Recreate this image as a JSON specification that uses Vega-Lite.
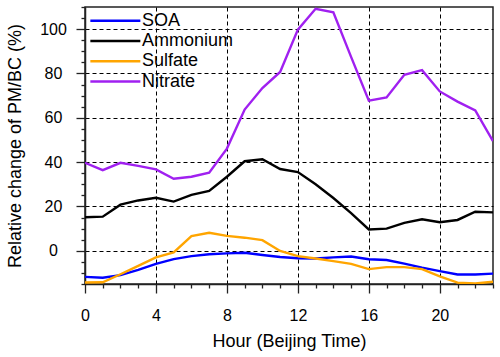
{
  "$schema": "https://vega.github.io/schema/vega-lite/v6.json",
  "width": 408,
  "height": 277,
  "autosize": {"type": "none"},
  "padding": {"left": 85, "top": 7, "right": 7, "bottom": 73},
  "background": "white",
  "config": {
    "view": {"stroke": "#222", "strokeWidth": 1.5},
    "font": "Liberation Sans",
    "axis": {
      "labelFont": "Liberation Sans",
      "titleFont": "Liberation Sans",
      "labelColor": "black",
      "titleColor": "black",
      "titleFontWeight": "normal",
      "domainColor": "#222",
      "domainWidth": 1.5,
      "tickColor": "#222",
      "tickWidth": 1.3,
      "gridColor": "black",
      "gridDash": [4, 3],
      "gridWidth": 1
    }
  },
  "data": {
    "values": [
      {"h":0,"s":"SOA","v":-11.8},{"h":1,"s":"SOA","v":-12.2},{"h":2,"s":"SOA","v":-11.0},{"h":3,"s":"SOA","v":-8.6},{"h":4,"s":"SOA","v":-5.9},{"h":5,"s":"SOA","v":-3.8},{"h":6,"s":"SOA","v":-2.4},{"h":7,"s":"SOA","v":-1.6},{"h":8,"s":"SOA","v":-1.2},{"h":9,"s":"SOA","v":-0.9},{"h":10,"s":"SOA","v":-1.9},{"h":11,"s":"SOA","v":-2.8},{"h":12,"s":"SOA","v":-3.4},{"h":13,"s":"SOA","v":-3.5},{"h":14,"s":"SOA","v":-3.0},{"h":15,"s":"SOA","v":-2.6},{"h":16,"s":"SOA","v":-3.8},{"h":17,"s":"SOA","v":-4.2},{"h":18,"s":"SOA","v":-5.8},{"h":19,"s":"SOA","v":-7.6},{"h":20,"s":"SOA","v":-9.2},{"h":21,"s":"SOA","v":-10.7},{"h":22,"s":"SOA","v":-10.7},{"h":23,"s":"SOA","v":-10.3},
      {"h":0,"s":"Ammonium","v":15.1},{"h":1,"s":"Ammonium","v":15.4},{"h":2,"s":"Ammonium","v":20.8},{"h":3,"s":"Ammonium","v":22.7},{"h":4,"s":"Ammonium","v":23.9},{"h":5,"s":"Ammonium","v":22.2},{"h":6,"s":"Ammonium","v":25.2},{"h":7,"s":"Ammonium","v":27.0},{"h":8,"s":"Ammonium","v":33.4},{"h":9,"s":"Ammonium","v":40.4},{"h":10,"s":"Ammonium","v":41.3},{"h":11,"s":"Ammonium","v":36.9},{"h":12,"s":"Ammonium","v":35.5},{"h":13,"s":"Ammonium","v":30.0},{"h":14,"s":"Ammonium","v":23.8},{"h":15,"s":"Ammonium","v":17.0},{"h":16,"s":"Ammonium","v":9.6},{"h":17,"s":"Ammonium","v":10.0},{"h":18,"s":"Ammonium","v":12.6},{"h":19,"s":"Ammonium","v":14.2},{"h":20,"s":"Ammonium","v":12.9},{"h":21,"s":"Ammonium","v":13.9},{"h":22,"s":"Ammonium","v":17.6},{"h":23,"s":"Ammonium","v":17.3},
      {"h":0,"s":"Sulfate","v":-14.3},{"h":1,"s":"Sulfate","v":-14.2},{"h":2,"s":"Sulfate","v":-10.6},{"h":3,"s":"Sulfate","v":-6.8},{"h":4,"s":"Sulfate","v":-3.0},{"h":5,"s":"Sulfate","v":-0.7},{"h":6,"s":"Sulfate","v":6.6},{"h":7,"s":"Sulfate","v":8.1},{"h":8,"s":"Sulfate","v":6.7},{"h":9,"s":"Sulfate","v":5.9},{"h":10,"s":"Sulfate","v":4.8},{"h":11,"s":"Sulfate","v":-0.1},{"h":12,"s":"Sulfate","v":-2.4},{"h":13,"s":"Sulfate","v":-3.5},{"h":14,"s":"Sulfate","v":-4.7},{"h":15,"s":"Sulfate","v":-5.9},{"h":16,"s":"Sulfate","v":-8.3},{"h":17,"s":"Sulfate","v":-7.4},{"h":18,"s":"Sulfate","v":-7.4},{"h":19,"s":"Sulfate","v":-8.3},{"h":20,"s":"Sulfate","v":-11.6},{"h":21,"s":"Sulfate","v":-14.4},{"h":22,"s":"Sulfate","v":-14.8},{"h":23,"s":"Sulfate","v":-14.0},
      {"h":0,"s":"Nitrate","v":39.7},{"h":1,"s":"Nitrate","v":36.4},{"h":2,"s":"Nitrate","v":39.7},{"h":3,"s":"Nitrate","v":38.3},{"h":4,"s":"Nitrate","v":36.7},{"h":5,"s":"Nitrate","v":32.5},{"h":6,"s":"Nitrate","v":33.4},{"h":7,"s":"Nitrate","v":35.2},{"h":8,"s":"Nitrate","v":46.1},{"h":9,"s":"Nitrate","v":63.7},{"h":10,"s":"Nitrate","v":73.4},{"h":11,"s":"Nitrate","v":80.7},{"h":12,"s":"Nitrate","v":99.8},{"h":13,"s":"Nitrate","v":109.2},{"h":14,"s":"Nitrate","v":107.6},{"h":15,"s":"Nitrate","v":87.5},{"h":16,"s":"Nitrate","v":67.7},{"h":17,"s":"Nitrate","v":69.2},{"h":18,"s":"Nitrate","v":79.4},{"h":19,"s":"Nitrate","v":81.5},{"h":20,"s":"Nitrate","v":71.9},{"h":21,"s":"Nitrate","v":67.3},{"h":22,"s":"Nitrate","v":63.3},{"h":23,"s":"Nitrate","v":49.5}
    ]
  },
  "mark": {"type": "line", "clip": true, "strokeWidth": 2.4},
  "encoding": {
    "x": {
      "field": "h",
      "type": "quantitative",
      "scale": {"domain": [0, 23], "nice": false, "zero": false},
      "axis": {
        "title": "Hour (Beijing Time)",
        "titleFontSize": 18,
        "titleX": 204,
        "titleY": 62.7,
        "titleBaseline": "alphabetic",
        "titleAlign": "center",
        "values": [0,1,2,3,4,5,6,7,8,9,10,11,12,13,14,15,16,17,18,19,20,21,22,23],
        "labelExpr": "datum.value % 4 === 0 ? datum.label : ''",
        "labelFontSize": 16,
        "labelFlush": false,
        "labelOverlap": false,
        "labelPadding": 14,
        "tickSize": {"condition": {"test": "datum.value % 4 === 0", "value": 9}, "value": 4},
        "grid": true,
        "gridOpacity": {"condition": {"test": "datum.value % 4 === 0 && datum.value > 0 && datum.value < 23", "value": 1}, "value": 0}
      }
    },
    "y": {
      "field": "v",
      "type": "quantitative",
      "scale": {"domain": [-15, 110], "nice": false, "zero": false},
      "axis": {
        "title": "Relative change of PM/BC (%)",
        "titleFontSize": 18,
        "titleAngle": -90,
        "titleX": -65,
        "titleY": 138.5,
        "titleBaseline": "alphabetic",
        "titleAlign": "center",
        "values": [-15,-10,-5,0,5,10,15,20,25,30,35,40,45,50,55,60,65,70,75,80,85,90,95,100,105,110],
        "labelExpr": "(datum.value % 20 === 0 && datum.value >= 0) ? datum.label : ''",
        "labelFontSize": 16,
        "labelAlign": "center",
        "labelPadding": 23,
        "labelOverlap": false,
        "labelFlush": false,
        "tickSize": {"condition": {"test": "datum.value % 20 === 0", "value": 9}, "value": 4},
        "grid": true,
        "gridOpacity": {"condition": {"test": "datum.value % 20 === 0", "value": 1}, "value": 0}
      }
    },
    "color": {
      "field": "s",
      "type": "nominal",
      "scale": {"domain": ["SOA", "Ammonium", "Sulfate", "Nitrate"], "range": ["#0000FF", "#000000", "#FFA500", "#A020F0"]},
      "legend": {
        "title": null,
        "orient": "none",
        "legendX": 21.35,
        "legendY": 4.7,
        "symbolType": "M-5,0H5",
        "symbolSize": 100,
        "symbolStrokeWidth": 2.5,
        "labelOffset": 17.65,
        "labelFontSize": 18,
        "labelFont": "Liberation Sans",
        "labelColor": "black",
        "rowPadding": 2.3,
        "padding": 0
      }
    }
  }
}
